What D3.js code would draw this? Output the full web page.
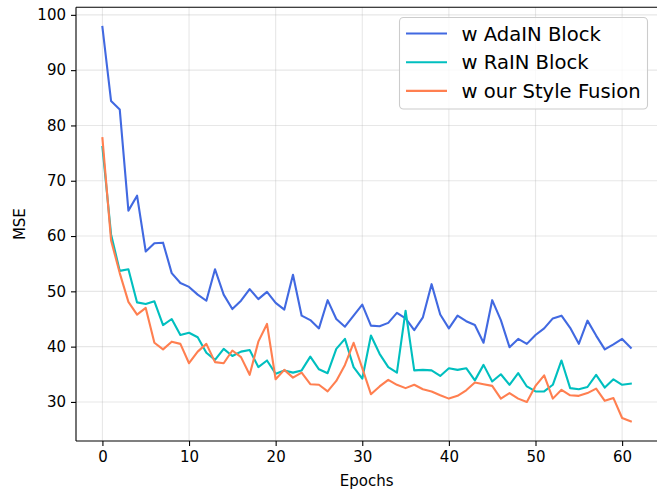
<!DOCTYPE html>
<html>
<head>
<meta charset="utf-8">
<script src="https://cdn.jsdelivr.net/npm/d3@7"></script>
<style>
  html, body { margin: 0; padding: 0; background: #fff; }
  svg { display: block; font-family: "DejaVu Sans", sans-serif; }
</style>
</head>
<body>
<svg id="chart" width="657" height="491"></svg>
<script>
const seriesNames = ["w AdaIN Block", "w RaIN Block", "w our Style Fusion"];
const seriesColors = ["#4169E1", "#00BFBF", "#FF7F50"];

const adain = [97.8, 84.4, 82.9, 64.6, 67.3, 57.2, 58.7, 58.8, 53.3, 51.5,
  50.8, 49.4, 48.3, 54.0, 49.4, 46.8, 48.3, 50.4, 48.6, 49.9,
  47.9, 46.7, 53.0, 45.6, 44.8, 43.3, 48.4, 45.0, 43.6, 45.6,
  47.6, 43.8, 43.7, 44.3, 46.1, 45.1, 43.0, 45.3, 51.3, 45.8,
  43.3, 45.6, 44.6, 43.9, 40.7, 48.4, 44.8, 39.9, 41.4, 40.5,
  42.1, 43.3, 45.1, 45.6, 43.4, 40.5, 44.7, 42.0, 39.5, 40.4,
  41.4, 39.8];

const rain = [76.1, 60.3, 53.7, 54.0, 48.0, 47.7, 48.2, 43.9, 45.0, 42.1,
  42.5, 41.7, 38.9, 37.6, 39.6, 38.3, 39.1, 39.4, 36.3, 37.5,
  35.1, 35.7, 35.3, 35.7, 38.2, 35.9, 35.2, 39.6, 41.4, 36.3,
  34.2, 42.0, 38.7, 36.3, 35.3, 46.5, 35.7, 35.8, 35.7, 34.7,
  36.1, 35.8, 36.1, 33.9, 36.7, 33.7, 35.0, 33.1, 35.2, 32.8,
  31.9, 31.9, 33.1, 37.5, 32.5, 32.3, 32.7, 34.9, 32.6, 34.1,
  33.1, 33.3];

const fusion = [77.7, 59.2, 53.3, 48.1, 45.8, 47.0, 40.7, 39.5, 40.9, 40.5,
  37.0, 39.1, 40.5, 37.2, 37.0, 39.3, 38.1, 34.9, 40.9, 44.1,
  34.1, 35.8, 34.4, 35.3, 33.2, 33.1, 31.9, 33.8, 36.7, 40.7,
  36.1, 31.4, 32.8, 34.0, 33.1, 32.5, 33.1, 32.3, 31.9, 31.2,
  30.6, 31.1, 32.1, 33.5, 33.2, 32.9, 30.6, 31.6, 30.6, 30.0,
  32.9, 34.8, 30.6, 32.2, 31.2, 31.1, 31.6, 32.4, 30.2, 30.7,
  27.1, 26.5];

const xTicks = [0, 10, 20, 30, 40, 50, 60];
const yTicks = [30, 40, 50, 60, 70, 80, 90, 100];
const xLabel = "Epochs";
const yLabel = "MSE";

const allSeries = [adain, rain, fusion];
const epochs = d3.range(adain.length);

const svg = d3.select("#chart");
const L = 76, R = 657.2, T = 7.3, B = 441;

const xMin = 0, xMax = epochs.length - 1;
const xPad = (xMax - xMin) * 0.05;
const allVals = allSeries.flat();
const yLo = d3.min(allVals), yHi = d3.max(allVals);
const yPad = (yHi - yLo) * 0.05;

const x = d3.scaleLinear().domain([xMin - xPad, xMax + xPad]).range([L, R]);
const y = d3.scaleLinear().domain([yLo - yPad, yHi + yPad]).range([B, T]);

// grid
const grid = svg.append("g");
grid.selectAll("line.gx").data(xTicks).enter().append("line")
  .attr("x1", d => x(d)).attr("x2", d => x(d))
  .attr("y1", T).attr("y2", B)
  .attr("stroke", "#b0b0b0").attr("stroke-opacity", 0.3).attr("stroke-width", 1.1);
grid.selectAll("line.gy").data(yTicks).enter().append("line")
  .attr("x1", L).attr("x2", R)
  .attr("y1", d => y(d)).attr("y2", d => y(d))
  .attr("stroke", "#b0b0b0").attr("stroke-opacity", 0.3).attr("stroke-width", 1.1);

// lines
const line = d3.line().x((d, i) => x(i)).y(d => y(d));
allSeries.forEach((s, k) => {
  svg.append("path")
    .datum(s)
    .attr("d", line)
    .attr("fill", "none")
    .attr("stroke", seriesColors[k])
    .attr("stroke-width", 2.1)
    .attr("stroke-linejoin", "round")
    .attr("stroke-linecap", "square");
});

// axes
const xAxis = d3.axisBottom(x).tickValues(xTicks).tickSize(5).tickPadding(5).tickFormat(d3.format("d"));
const yAxis = d3.axisLeft(y).tickValues(yTicks).tickSize(5).tickPadding(5).tickFormat(d3.format("d"));

const gx = svg.append("g").attr("transform", `translate(0,${B})`).call(xAxis);
const gy = svg.append("g").attr("transform", `translate(${L},0)`).call(yAxis);
[gx, gy].forEach(g => {
  g.select(".domain").remove();
  g.selectAll(".tick line").attr("stroke", "#000").attr("stroke-width", 1.1);
  g.selectAll(".tick text").attr("fill", "#000").style("font-size", "15px")
    .style("font-family", "DejaVu Sans, sans-serif");
});
gx.selectAll(".tick text").attr("dy", "0.72em");

// spines (right spine falls just beyond the canvas edge)
const sp = svg.append("g").attr("stroke", "#000").attr("stroke-width", 1.1).attr("fill", "none");
sp.append("line").attr("x1", L).attr("x2", L).attr("y1", T).attr("y2", B);
sp.append("line").attr("x1", L).attr("x2", R).attr("y1", B).attr("y2", B);
sp.append("line").attr("x1", L).attr("x2", R).attr("y1", T).attr("y2", T);

// axis labels
svg.append("text")
  .attr("x", (L + R) / 2).attr("y", 486)
  .attr("text-anchor", "middle")
  .style("font-size", "15px").attr("fill", "#000")
  .text(xLabel);
svg.append("text")
  .attr("transform", `translate(25,${(T + B) / 2}) rotate(-90)`)
  .attr("text-anchor", "middle")
  .style("font-size", "15px").attr("fill", "#000")
  .text(yLabel);

// legend
const lg = svg.append("g");
lg.append("rect")
  .attr("x", 399.5).attr("y", 17.5).attr("width", 248).attr("height", 91.5)
  .attr("rx", 4).attr("ry", 4)
  .attr("fill", "#fff").attr("fill-opacity", 0.8)
  .attr("stroke", "#cccccc").attr("stroke-width", 1.1);
seriesNames.forEach((name, k) => {
  const cy = 33.5 + k * 28.7;
  lg.append("line")
    .attr("x1", 406).attr("x2", 447).attr("y1", cy).attr("y2", cy)
    .attr("stroke", seriesColors[k]).attr("stroke-width", 2.1);
  lg.append("text")
    .attr("x", 461.5).attr("y", cy).attr("dy", "0.36em")
    .style("font-size", "19.6px").attr("fill", "#000")
    .text(name);
});
</script>
</body>
</html>
